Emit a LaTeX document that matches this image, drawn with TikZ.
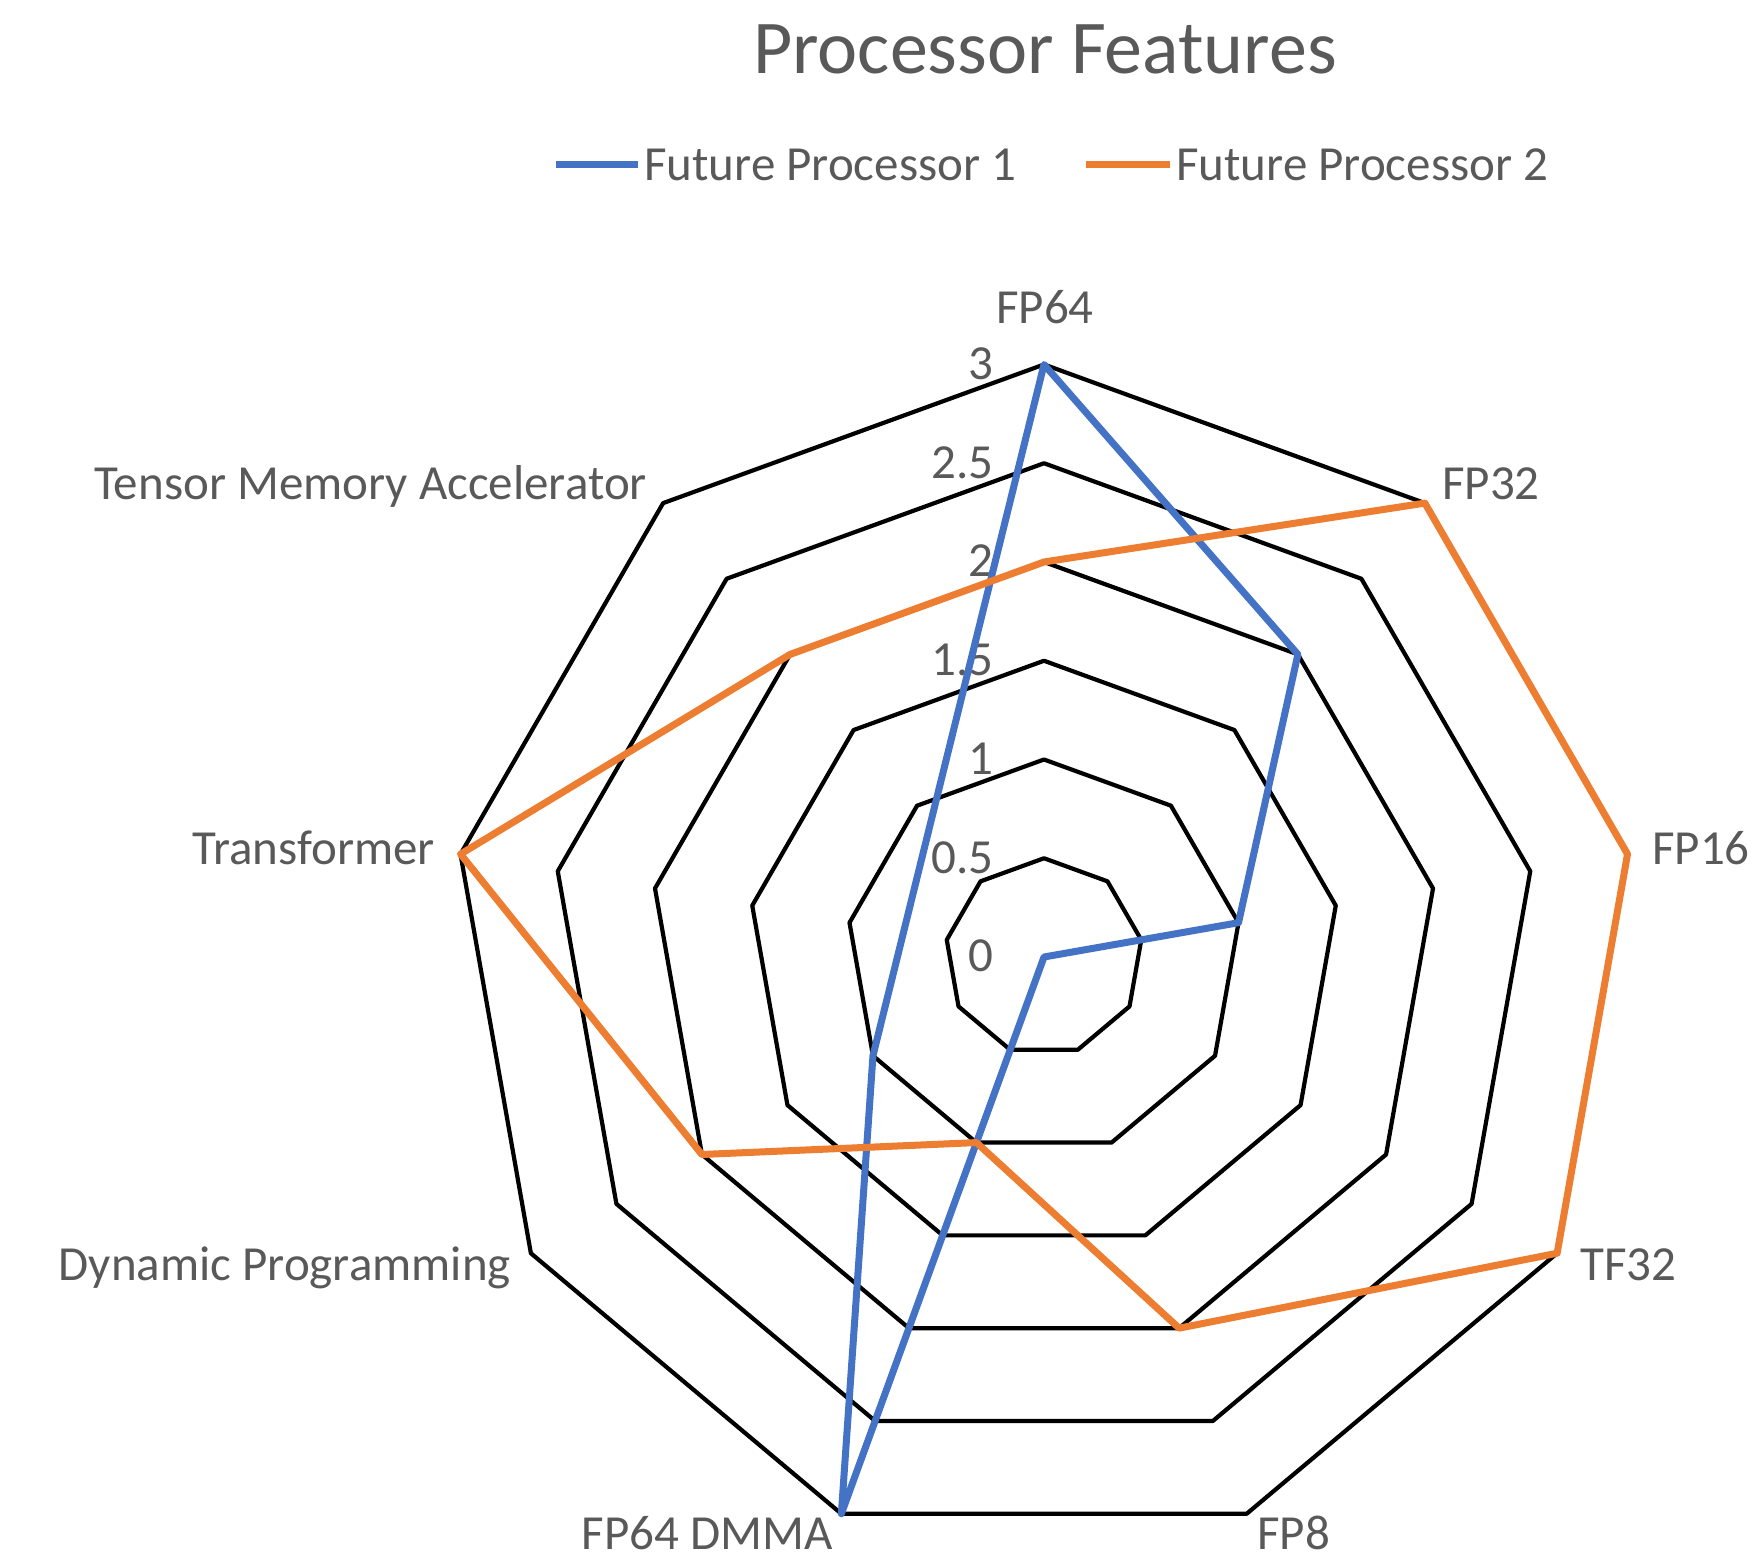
\documentclass[tikz,border=0pt]{standalone}
\usepackage{fontspec}
\setmainfont{Carlito}
\definecolor{seriesA}{HTML}{4472C4}
\definecolor{seriesB}{HTML}{ED7D31}
\definecolor{labelgray}{HTML}{595959}
\begin{document}
\begin{tikzpicture}[x=1pt,y=1pt,
  ring/.style={draw=black, line width=4.2pt, line join=round},
  seriesline/.style={line width=7pt, line join=round},
  lbl/.style={text=labelgray, inner sep=0pt, font=\fontsize{49}{59}\selectfont},
  ticklbl/.style={lbl, anchor=base east},
  charttitle/.style={text=labelgray, inner sep=0pt, font=\fontsize{76}{91}\selectfont, anchor=base}]
\useasboundingbox (0,0) rectangle (1760,1560);
\fill[white] (0,0) rectangle (1760,1560);

% chart centre; one unit of value = 197.5
\coordinate (O) at (1044,603);

% grid rings at 0.5 ... 3
\begin{scope}[shift={(O)}]
  \foreach \k in {1,...,6} {
    \draw[ring] (90:\k*98.75) \foreach \a in {50,10,...,-230} { -- (\a:\k*98.75) } -- cycle;
  }
\end{scope}

% value ticks
\foreach \k/\t in {0/0,1/0.5,2/1,3/1.5,4/2,5/2.5,6/3}
  \node[ticklbl] (tick\k) at (994,{588+\k*98.75}) {\t};

% category labels
\node[lbl, anchor=base]      (cFP64) at (1045,1236) {FP64};
\node[lbl, anchor=base west] (cFP32) at (1442,1060) {FP32};
\node[lbl, anchor=base west] (cFP16) at (1652,695) {FP16};
\node[lbl, anchor=base west] (cTF32) at (1580,279) {TF32};
\node[lbl, anchor=base west] (cFP8)  at (1257,11) {FP8};
\node[lbl, anchor=base east] (cDMMA) at (833,11) {FP64 DMMA};
\node[lbl, anchor=base east] (cDP)   at (511,279) {Dynamic Programming};
\node[lbl, anchor=base east] (cTR)   at (435,695) {Transformer};
\node[lbl, anchor=base east] (cTMA)  at (647,1060) {Tensor Memory Accelerator};

% data points
\begin{scope}[shift={(O)}]
  % Future Processor 1 (Transformer and TMA left blank)
  \coordinate (a1) at (90:592.5);
  \coordinate (a2) at (50:395);
  \coordinate (a3) at (10:197.5);
  \coordinate (a4) at (0,0);
  \coordinate (a5) at (0,0);
  \coordinate (a6) at (-110:592.5);
  \coordinate (a7) at (-150:197.5);
  % Future Processor 2
  \coordinate (b1) at (90:395);
  \coordinate (b2) at (50:592.5);
  \coordinate (b3) at (10:592.5);
  \coordinate (b4) at (-30:592.5);
  \coordinate (b5) at (-70:395);
  \coordinate (b6) at (-110:197.5);
  \coordinate (b7) at (-150:395);
  \coordinate (b8) at (170:592.5);
  \coordinate (b9) at (130:395);
\end{scope}

\draw[seriesline, seriesA] (a1) -- (a2) -- (a3) -- (a4) -- (a5) -- (a6) -- (a7) -- cycle;
\draw[seriesline, seriesB] (b1) -- (b2) -- (b3) -- (b4) -- (b5) -- (b6) -- (b7) -- (b8) -- (b9) -- cycle;

% title
\node[charttitle] (title) at (1045,1486) {Processor Features};

% legend
\coordinate (legA1) at (556,1395);
\coordinate (legA2) at (638,1395);
\coordinate (legB1) at (1086,1395);
\coordinate (legB2) at (1170,1395);
\draw[seriesline, seriesA] (legA1) -- (legA2);
\draw[seriesline, seriesB] (legB1) -- (legB2);
\node[lbl, anchor=base west] (legAtext) at (644,1379.5) {Future Processor 1};
\node[lbl, anchor=base west] (legBtext) at (1176,1379.5) {Future Processor 2};
\end{tikzpicture}
\end{document}
